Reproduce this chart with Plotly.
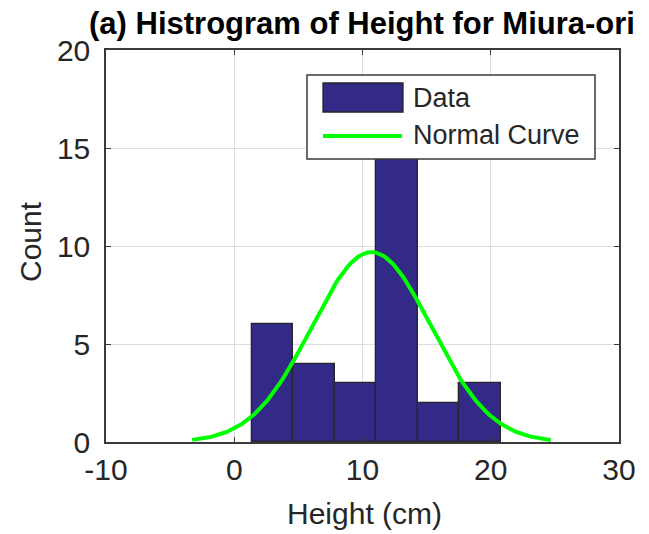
import numpy as np
import plotly.graph_objects as go

# Histogram bins (edges) and counts per bin
bin_edges = [1.38, 4.61, 7.85, 11.08, 14.31, 17.55, 20.78]
counts = [6, 4, 3, 17, 2, 3]

# Fitted normal distribution parameters
fit_mean = 10.7
fit_std = 4.66

x_ticks = [-10, 0, 10, 20, 30]
x_tick_text = ["-10", "0", "10", "20", "30"]
y_ticks = [0, 5, 10, 15, 20]
y_tick_text = ["0", "5", "10", "15", "20"]

edges = np.array(bin_edges)
centers = (edges[:-1] + edges[1:]) / 2
widths = np.diff(edges)
bin_w = widths.mean()

# Normal curve scaled to the histogram's area, drawn over mean +/- 3 sd
xc = np.linspace(fit_mean - 3 * fit_std, fit_mean + 3 * fit_std, 200)
yc = (sum(counts) * bin_w / (fit_std * np.sqrt(2 * np.pi))
      * np.exp(-0.5 * ((xc - fit_mean) / fit_std) ** 2))

BAR = "#332a87"
EDGE = "#262626"
GREEN = "#00ff00"
AXC = "#3a3a3a"
FONT = "Liberation Sans, Arial, Helvetica, sans-serif"

fig = go.Figure()
fig.add_trace(go.Bar(x=centers, y=counts, width=widths,
                     marker=dict(color=BAR, line=dict(color=EDGE, width=1.3)),
                     name="Data", showlegend=False))
fig.add_trace(go.Scatter(x=xc, y=yc, mode="lines",
                         line=dict(color=GREEN, width=4),
                         name="Normal Curve", showlegend=False))

# plot area in pixels
L, R, T, B = 106, 619, 50, 442
W, H = 649, 534


def px(xp):
    return (xp - L) / (R - L)


def py(yp):
    return (B - yp) / (B - T)


shapes = [
    # legend frame
    dict(type="rect", xref="paper", yref="paper",
         x0=px(307), x1=px(595), y0=py(159), y1=py(75),
         fillcolor="white", line=dict(color=AXC, width=1.5), layer="above"),
    # legend patch for the bars
    dict(type="rect", xref="paper", yref="paper",
         x0=px(323), x1=px(403), y0=py(112), y1=py(83),
         fillcolor=BAR, line=dict(color=EDGE, width=1.3), layer="above"),
    # legend line for the curve
    dict(type="line", xref="paper", yref="paper",
         x0=px(323), x1=px(402), y0=py(136), y1=py(136),
         line=dict(color=GREEN, width=4), layer="above"),
]

annotations = [
    dict(text="Data", xref="paper", yref="paper", x=px(411), y=py(98),
         xanchor="left", yanchor="middle", showarrow=False,
         font=dict(family=FONT, size=27, color="#262626")),
    dict(text="Normal Curve", xref="paper", yref="paper", x=px(411), y=py(135),
         xanchor="left", yanchor="middle", showarrow=False,
         font=dict(family=FONT, size=27, color="#262626")),
    dict(text="Height (cm)", xref="paper", yref="paper", x=px(364), y=py(513),
         xanchor="center", yanchor="middle", showarrow=False,
         font=dict(family=FONT, size=30, color="#262626")),
    dict(text="Count", xref="paper", yref="paper", x=px(30), y=py(242),
         xanchor="center", yanchor="middle", showarrow=False, textangle=-90,
         font=dict(family=FONT, size=30, color="#262626")),
]

axis_common = dict(
    showgrid=True, gridcolor="#dedede", gridwidth=1,
    showline=True, linecolor=AXC, linewidth=1.5, mirror="allticks",
    ticks="inside", ticklen=5, tickcolor=AXC, tickwidth=1,
    zeroline=False,
    tickfont=dict(family=FONT, size=30, color="#262626"),
)

fig.update_layout(
    width=W, height=H,
    margin=dict(l=L, r=W - R, t=T, b=H - B),
    paper_bgcolor="white", plot_bgcolor="white",
    bargap=0,
    showlegend=False,
    title=dict(text="<b>(a) Histrogram of Height for Miura-ori</b>",
               x=px(362), xref="paper", xanchor="center",
               y=1 - 23 / H, yref="container", yanchor="middle",
               font=dict(family=FONT, size=31, color="black")),
    xaxis=dict(range=[-10, 30], tickvals=x_ticks, ticktext=x_tick_text,
               **axis_common),
    yaxis=dict(range=[0, 20], tickvals=y_ticks, ticktext=y_tick_text,
               ticklabelstandoff=8, **axis_common),
    shapes=shapes,
    annotations=annotations,
)

fig.write_html("out.html")
